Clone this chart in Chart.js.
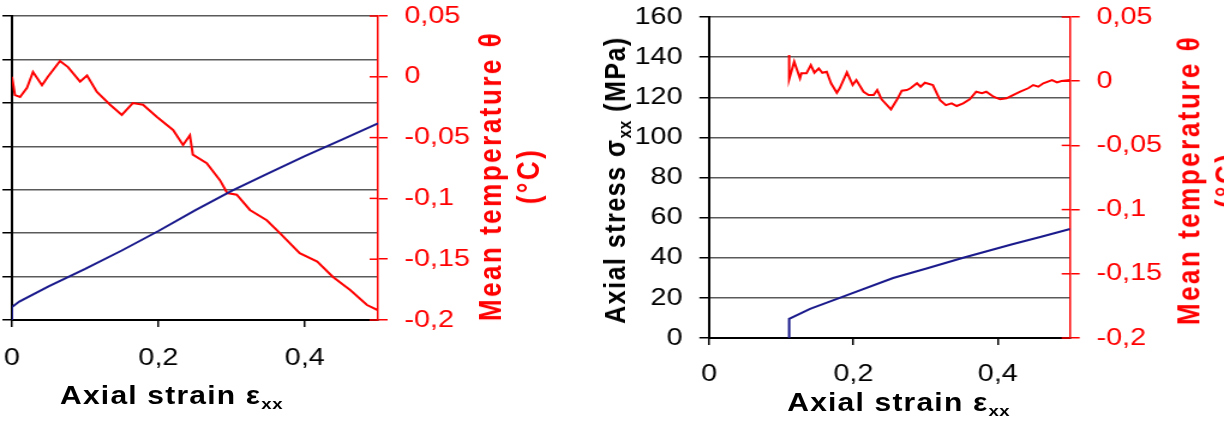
<!DOCTYPE html>
<html>
<head>
<meta charset="utf-8">
<script src="https://cdn.jsdelivr.net/npm/chart.js@4.4.1/dist/chart.umd.min.js"></script>
<style>
  html, body { margin: 0; padding: 0; background: #fff; overflow: hidden; }
  #wrap { position: absolute; left: 0; top: 0; width: 1020px; height: 424px; overflow: hidden;
          transform: scaleX(1.2); transform-origin: 0 0; }
  canvas { position: absolute; top: 0; }
  .ttl { position: absolute; font-family: "Liberation Sans", Arial, sans-serif; font-weight: bold;
         white-space: nowrap; letter-spacing: 1px; }
  .ttl sub { font-size: 0.62em; vertical-align: -0.35em; line-height: 0; letter-spacing: 0.5px; }
  .rot { transform: translate(-50%, -50%) rotate(-90deg); text-align: center; }
</style>
</head>
<body>
<div id="wrap">
  <canvas id="leftChart" width="560" height="424" style="left:-90px"></canvas>
  <canvas id="rightChart" width="540" height="424" style="left:480px"></canvas>

  <div class="ttl" style="left:143px; top:381px; font-size:25px; transform:translateX(-50%)">Axial strain ε<sub>xx</sub></div>
  <div class="ttl" style="left:749px; top:388px; font-size:25px; transform:translateX(-50%)">Axial strain ε<sub>xx</sub></div>
  <div class="ttl rot" style="left:512px; top:180px; font-size:25px; letter-spacing:1.5px">Axial stress σ<sub>xx</sub> (MPa)</div>
  <div class="ttl rot" style="left:425px; top:176px; font-size:26px; color:#ff0000; line-height:31.7px; letter-spacing:2.5px">Mean temperature θ<br>(°C)</div>
  <div class="ttl rot" style="left:1007px; top:180px; font-size:26px; color:#ff0000; line-height:31.7px; letter-spacing:2.5px">Mean temperature θ<br>(°C)</div>
</div>

<script>
// left plot - stress (blue) and temperature (red) vs strain
const leftStressStrain = [0, 0, 0.01, 0.05, 0.1, 0.15, 0.2, 0.25, 0.3, 0.35, 0.4, 0.45, 0.5];
const leftStress = [0, 6, 8.5, 15.5, 23.5, 32, 41, 50.5, 59.5, 67.5, 75.5, 83, 90.5];

const leftTempStrain = [0, 0.004, 0.011, 0.0205, 0.0287, 0.041, 0.049, 0.0656, 0.0765, 0.093, 0.1025,
    0.116, 0.134, 0.150, 0.165, 0.179, 0.198, 0.22, 0.2336, 0.243, 0.247, 0.266, 0.284, 0.294,
    0.307, 0.325, 0.348, 0.366, 0.393, 0.417, 0.4385, 0.462, 0.485, 0.5];
const leftTemp = [0.0, -0.015, -0.0166, -0.009, 0.004, -0.007, 0.0, 0.013, 0.008, -0.004, 0.001,
    -0.0125, -0.023, -0.0314, -0.0216, -0.023, -0.033, -0.0437, -0.056, -0.048, -0.064, -0.071, -0.085, -0.0956,
    -0.097, -0.1095, -0.118, -0.1285, -0.145, -0.152, -0.1646, -0.1753, -0.1877, -0.192];

// right plot
const rightStressStrain = [0.111, 0.111, 0.14, 0.181, 0.255, 0.30, 0.352, 0.42, 0.46, 0.5];
const rightStress = [0, 9.5, 14.5, 20, 29.9, 34.5, 40, 46.7, 50.5, 54.3];

const rightTempStrain = [0.111, 0.111, 0.118, 0.126, 0.128, 0.135, 0.141, 0.146, 0.152, 0.157, 0.163,
    0.169, 0.177, 0.181, 0.191, 0.199, 0.204, 0.214, 0.221, 0.228, 0.233, 0.239, 0.252, 0.260, 0.267,
    0.274, 0.279, 0.288, 0.293, 0.299, 0.310, 0.320, 0.328, 0.336, 0.343, 0.352, 0.361, 0.370, 0.378,
    0.384, 0.394, 0.403, 0.412, 0.421, 0.431, 0.442, 0.449, 0.456, 0.463, 0.475, 0.482, 0.488, 0.5];
const rightTemp = [0.0204, 0.0015, 0.0152, 0.0022, 0.0061, 0.0061, 0.0126, 0.0066, 0.010, 0.0066, 0.0074,
    -0.0016, -0.009, -0.0055, 0.0069, -0.003, 0.0009, -0.0082, -0.0108, -0.0108, -0.0069, -0.0141, -0.0219, -0.0147, -0.0074,
    -0.0069, -0.0055, -0.0016, -0.0043, -0.0012, -0.003, -0.0147, -0.0186, -0.0172, -0.0193, -0.0172, -0.0141, -0.0082, -0.0094,
    -0.0082, -0.0121, -0.0141, -0.0133, -0.0108, -0.0082, -0.0055, -0.003, -0.0043, -0.0016, 0.0009, -0.0009, 0.0001, 0.0009];

const strainTicks = [0, 0.2, 0.4];
const tempTicks = [0.05, 0, -0.05, -0.1, -0.15, -0.2];

Chart.defaults.font.family = '"Liberation Sans", Arial, sans-serif';
Chart.defaults.font.size = 24;
Chart.defaults.color = '#000';

function pts(xs, ys) {
    return xs.map(function (x, i) { return { x: x, y: ys[i] }; });
}

function comma(v) {
    return String(Math.round(v * 100) / 100).replace('.', ',');
}

// small red tick marks on the inside of the temperature axis
const innerTicks = {
    id: 'innerTicks',
    afterDatasetsDraw(chart) {
        const s = chart.scales.y1;
        const ctx = chart.ctx;
        ctx.save();
        ctx.strokeStyle = '#ff0000';
        ctx.lineWidth = 1.5;
        s.ticks.forEach(function (t) {
            const y = s.getPixelForValue(t.value);
            ctx.beginPath();
            ctx.moveTo(s.left - 7, y);
            ctx.lineTo(s.left, y);
            ctx.stroke();
        });
        ctx.restore();
    }
};

function makeChart(id, o) {
    const ctx = document.getElementById(id).getContext('2d');
    return new Chart(ctx, {
        type: 'line',
        data: {
            datasets: [{
                data: pts(o.sx, o.sy),
                borderColor: '#1a1a8c',
                borderWidth: 2,
                pointRadius: 0,
                tension: 0,
                yAxisID: 'y'
            }, {
                data: pts(o.tx, o.ty),
                borderColor: '#ff0000',
                borderWidth: 2,
                pointRadius: 0,
                tension: 0,
                yAxisID: 'y1'
            }]
        },
        plugins: [innerTicks],
        options: {
            responsive: false,
            animation: false,
            layout: { padding: { top: o.top, left: 0, right: 0, bottom: 0 } },
            plugins: { legend: { display: false }, tooltip: { enabled: false } },
            scales: {
                x: {
                    type: 'linear',
                    min: 0,
                    max: 0.5,
                    afterBuildTicks: function (s) { s.ticks = strainTicks.map(function (v) { return { value: v }; }); },
                    afterFit: function (s) { s.height = o.xh; },
                    border: { color: '#000', width: 2 },
                    grid: { drawOnChartArea: false, color: '#000', tickLength: 7, lineWidth: 1.5 },
                    ticks: { padding: o.xpad, color: '#000', callback: comma, maxRotation: 0 }
                },
                y: {
                    position: 'left',
                    min: 0,
                    max: o.ymax,
                    ticks: { stepSize: 20, display: o.showLeft, padding: 14, color: '#000' },
                    afterFit: function (s) { s.width = o.yw; s.paddingTop = 0; s.paddingBottom = 0; },
                    border: { color: '#000', width: 2 },
                    grid: { color: '#5a5a5a', lineWidth: 1.5, tickLength: 8, tickColor: '#000' }
                },
                y1: {
                    position: 'right',
                    min: -0.2,
                    max: 0.05,
                    afterBuildTicks: function (s) { s.ticks = tempTicks.map(function (v) { return { value: v }; }); },
                    afterFit: function (s) { s.width = o.y1w; s.paddingTop = 0; s.paddingBottom = 0; },
                    border: { color: '#ff0000', width: 1.5 },
                    grid: { drawOnChartArea: false, color: '#ff0000', tickLength: 8, lineWidth: 1.5 },
                    ticks: { padding: 14, color: '#ff0000', callback: comma }
                }
            }
        }
    });
}

makeChart('leftChart', {
    sx: leftStressStrain, sy: leftStress, tx: leftTempStrain, ty: leftTemp,
    ymax: 140, showLeft: false, top: 16, xh: 104, yw: 100, y1w: 155, xpad: 17
});

makeChart('rightChart', {
    sx: rightStressStrain, sy: rightStress, tx: rightTempStrain, ty: rightTemp,
    ymax: 160, showLeft: true, top: 17, xh: 86, yw: 110.8, y1w: 128.3, xpad: 15
});
</script>
</body>
</html>
